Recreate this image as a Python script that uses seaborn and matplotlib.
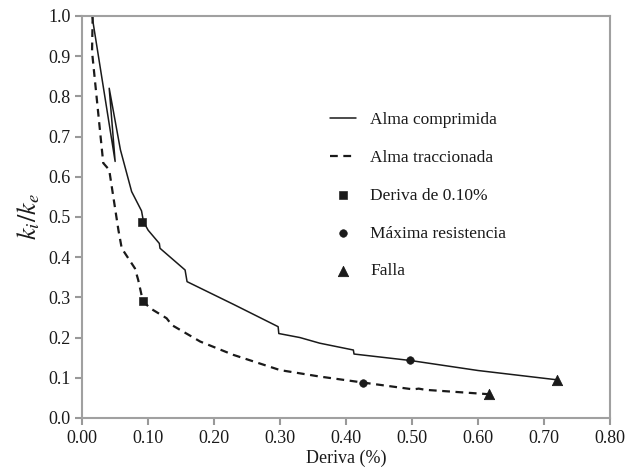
import seaborn as sns
import matplotlib.pyplot as plt
import pandas as pd
import numpy as np

# curve data
comp_x = [0.015, 0.050, 0.041, 0.058, 0.075, 0.090, 0.093, 0.100, 0.117, 0.118, 0.156, 0.159,
          0.230, 0.297, 0.298, 0.330, 0.360, 0.411, 0.412, 0.497, 0.600, 0.719]
comp_y = [1.000, 0.638, 0.820, 0.667, 0.563, 0.515, 0.488, 0.467, 0.434, 0.422, 0.368, 0.339,
          0.282, 0.227, 0.210, 0.200, 0.186, 0.169, 0.159, 0.143, 0.118, 0.095]

trac_x = [0.016, 0.015, 0.032, 0.041, 0.055, 0.060, 0.080, 0.085, 0.092, 0.103, 0.128, 0.136,
          0.179, 0.229, 0.300, 0.360, 0.426, 0.502, 0.510, 0.520, 0.617]
trac_y = [1.000, 0.911, 0.634, 0.617, 0.467, 0.422, 0.372, 0.343, 0.291, 0.273, 0.248, 0.231,
          0.190, 0.157, 0.119, 0.103, 0.088, 0.071, 0.073, 0.070, 0.059]

# markers: deriva 0.10%, maxima resistencia, falla
deriva_x = [0.090, 0.092]
deriva_y = [0.488, 0.291]
maxres_x = [0.497, 0.426]
maxres_y = [0.143, 0.088]
falla_x = [0.719, 0.617]
falla_y = [0.095, 0.059]

sns.set_style('white')
plt.rcParams['font.family'] = ['Liberation Serif', 'DejaVu Serif']
plt.rcParams['mathtext.fontset'] = 'stix'

fig = plt.figure(figsize=(6.27, 4.67), dpi=100)
ax = fig.add_axes([0.131, 0.105, 0.842, 0.861])

ink = '#1a1a1a'
sns.lineplot(x=comp_x, y=comp_y, sort=False, color=ink, lw=1.1, ax=ax, label='Alma comprimida')
sns.lineplot(x=trac_x, y=trac_y, sort=False, color=ink, lw=1.6, ax=ax, label='Alma traccionada',
             linestyle=(0, (3.5, 2.5)))
sns.scatterplot(x=deriva_x, y=deriva_y, marker='s', s=30, color=ink, edgecolor=ink, ax=ax,
                label='Deriva de 0.10%', zorder=3)
sns.scatterplot(x=maxres_x, y=maxres_y, marker='o', s=30, color=ink, edgecolor=ink, ax=ax,
                label='Máxima resistencia', zorder=3)
sns.scatterplot(x=falla_x, y=falla_y, marker='^', s=55, color=ink, edgecolor=ink, ax=ax,
                label='Falla', zorder=3)

ax.set_xlim(0, 0.8)
ax.set_ylim(0, 1.0)
ax.set_xticks(np.arange(0, 0.81, 0.1))
ax.set_yticks(np.arange(0, 1.01, 0.1))
ax.set_xticklabels(['%.2f' % v for v in np.arange(0, 0.81, 0.1)])
ax.set_yticklabels(['%.1f' % v for v in np.arange(0, 1.01, 0.1)])
ax.tick_params(axis='both', labelsize=13, colors='#999999', labelcolor=ink,
               direction='out', length=5, width=1.5, bottom=True, left=True)
for sp in ax.spines.values():
    sp.set_color('#a0a0a0')
    sp.set_linewidth(1.5)

ax.set_xlabel('Deriva (%)', fontsize=13, color=ink, labelpad=2)
ax.set_ylabel(r'$k_i/k_e$', fontsize=19, color=ink, labelpad=4)

ax.legend(loc='upper left', bbox_to_anchor=(0.44, 0.80), frameon=False, fontsize=12.5,
          labelspacing=1.25, handlelength=1.5, handletextpad=0.8, labelcolor=ink)

fig.savefig('out.png', dpi=100)
